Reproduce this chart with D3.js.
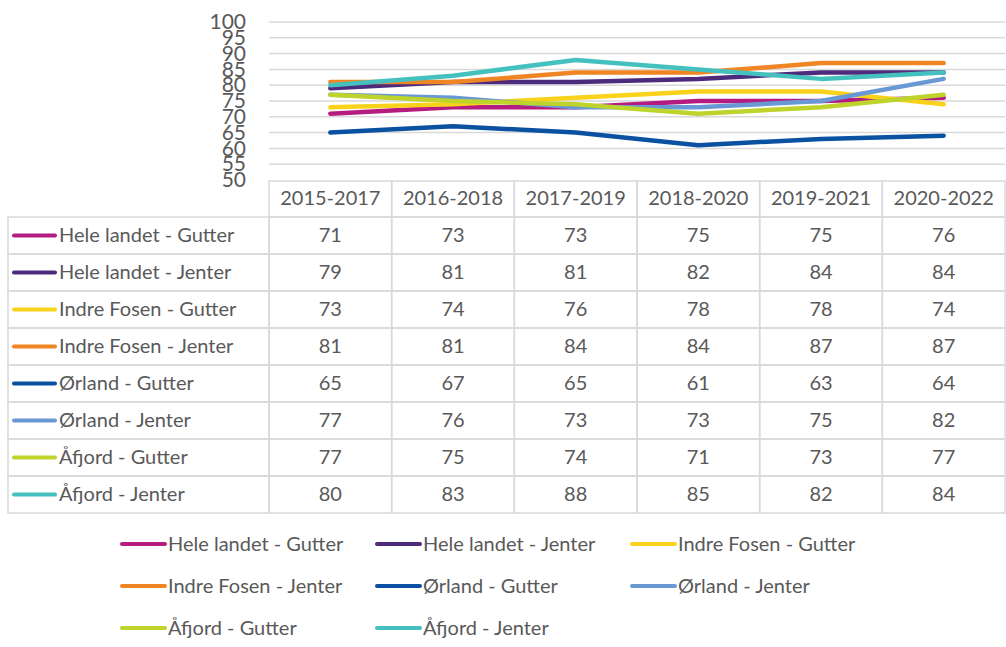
<!DOCTYPE html>
<html>
<head>
<meta charset="utf-8">
<script src="https://cdn.jsdelivr.net/npm/d3@7"></script>
<style>
  body { margin: 0; background: #fff; }
  svg { display: block; font-family: Lato, "Open Sans", sans-serif; }
</style>
</head>
<body>
<svg id="chart" width="1006" height="647"></svg>
<script>
const periods = ['2015-2017', '2016-2018', '2017-2019', '2018-2020', '2019-2021', '2020-2022'];
const seriesNames = [
  'Hele landet - Gutter', 'Hele landet - Jenter',
  'Indre Fosen - Gutter', 'Indre Fosen - Jenter',
  'Ørland - Gutter', 'Ørland - Jenter',
  'Åfjord - Gutter', 'Åfjord - Jenter'
];
const colors = ['#b41c80', '#4c2a7c', '#fad21b', '#f08523', '#0b51a1', '#6899d4', '#bed32c', '#44c1bf'];

const heleGutter = [71, 73, 73, 75, 75, 76];
const heleJenter = [79, 81, 81, 82, 84, 84];
const indreGutter = [73, 74, 76, 78, 78, 74];
const indreJenter = [81, 81, 84, 84, 87, 87];
const orlandGutter = [65, 67, 65, 61, 63, 64];
const orlandJenter = [77, 76, 73, 73, 75, 82];
const afjordGutter = [77, 75, 74, 71, 73, 77];
const afjordJenter = [80, 83, 88, 85, 82, 84];
const yTicks = [50, 55, 60, 65, 70, 75, 80, 85, 90, 95, 100];

const values = [heleGutter, heleJenter, indreGutter, indreJenter,
  orlandGutter, orlandJenter, afjordGutter, afjordJenter];
const series = seriesNames.map((name, i) => ({ name, color: colors[i], values: values[i] }));

const svg = d3.select('#chart');
const textColor = '#595959';
const gridColor = '#d9d9d9';

const plotLeft = 269, plotRight = 1005, plotTop = 22, plotBottom = 180;
const x = d3.scaleBand().domain(periods).range([plotLeft, plotRight]);
const y = d3.scaleLinear().domain([50, 100]).range([plotBottom, plotTop]);

// gridlines
svg.append('g')
  .selectAll('line')
  .data(yTicks.filter(d => d > 50))
  .join('line')
  .attr('x1', plotLeft).attr('x2', plotRight)
  .attr('y1', d => y(d)).attr('y2', d => y(d))
  .attr('stroke', gridColor).attr('stroke-width', 1.5);

// y axis labels (they overlap in the original too)
const yAxis = svg.append('g')
  .attr('transform', `translate(246,0)`)
  .call(d3.axisLeft(y).tickValues(yTicks).tickSize(0).tickPadding(0));
yAxis.select('.domain').remove();
yAxis.selectAll('text')
  .attr('fill', textColor)
  .style('font-size', '21px')
  .style('font-family', 'Lato, sans-serif');

// lines
const line = d3.line()
  .x((d, i) => x(periods[i]) + x.bandwidth() / 2)
  .y(d => y(d));

svg.append('g')
  .selectAll('path')
  .data(series)
  .join('path')
  .attr('d', d => line(d.values))
  .attr('fill', 'none')
  .attr('stroke', d => d.color)
  .attr('stroke-width', 4.5)
  .attr('stroke-linejoin', 'round')
  .attr('stroke-linecap', 'round');

// data table
const tableLeft = 8, headerTop = 181, rowTop = 217, rowH = 37;
const rowY = d3.scaleBand().domain(seriesNames).range([rowTop, rowTop + rowH * seriesNames.length]);
const table = svg.append('g');

table.selectAll('rect.head')
  .data(periods)
  .join('rect')
  .attr('class', 'head')
  .attr('x', d => x(d)).attr('y', headerTop)
  .attr('width', x.bandwidth()).attr('height', rowTop - headerTop)
  .attr('fill', 'none').attr('stroke', gridColor).attr('stroke-width', 1.5);

table.selectAll('text.head')
  .data(periods)
  .join('text')
  .attr('class', 'head')
  .attr('x', d => x(d) + x.bandwidth() / 2)
  .attr('y', (headerTop + rowTop) / 2 + 6)
  .attr('text-anchor', 'middle')
  .attr('fill', textColor)
  .style('font-size', '20px')
  .text(d => d);

const rows = table.selectAll('g.row')
  .data(series)
  .join('g')
  .attr('class', 'row')
  .attr('transform', d => `translate(0,${rowY(d.name)})`);

rows.append('rect')
  .attr('x', tableLeft).attr('y', 0)
  .attr('width', plotLeft - tableLeft).attr('height', rowH)
  .attr('fill', 'none').attr('stroke', gridColor).attr('stroke-width', 1.5);

rows.selectAll('rect.cell')
  .data(d => periods)
  .join('rect')
  .attr('class', 'cell')
  .attr('x', p => x(p)).attr('y', 0)
  .attr('width', x.bandwidth()).attr('height', rowH)
  .attr('fill', 'none').attr('stroke', gridColor).attr('stroke-width', 1.5);

rows.append('line')
  .attr('x1', 14).attr('x2', 55)
  .attr('y1', rowH / 2).attr('y2', rowH / 2)
  .attr('stroke', d => d.color).attr('stroke-width', 4).attr('stroke-linecap', 'round');

rows.append('text')
  .attr('x', 59).attr('y', rowH / 2 + 6)
  .attr('fill', textColor)
  .style('font-size', '20px')
  .text(d => d.name);

rows.selectAll('text.val')
  .data(d => d.values)
  .join('text')
  .attr('class', 'val')
  .attr('x', (v, i) => x(periods[i]) + x.bandwidth() / 2)
  .attr('y', rowH / 2 + 6)
  .attr('text-anchor', 'middle')
  .attr('fill', textColor)
  .style('font-size', '20px')
  .text(v => v);

// legend
const legend = svg.append('g')
  .selectAll('g')
  .data(series)
  .join('g')
  .attr('transform', (d, i) => `translate(${122 + (i % 3) * 255},${544 + Math.floor(i / 3) * 42})`);

legend.append('line')
  .attr('x1', 0).attr('x2', 43)
  .attr('stroke', d => d.color).attr('stroke-width', 4).attr('stroke-linecap', 'round');

legend.append('text')
  .attr('x', 46).attr('y', 7)
  .attr('fill', textColor)
  .style('font-size', '20px')
  .text(d => d.name);
</script>
</body>
</html>
